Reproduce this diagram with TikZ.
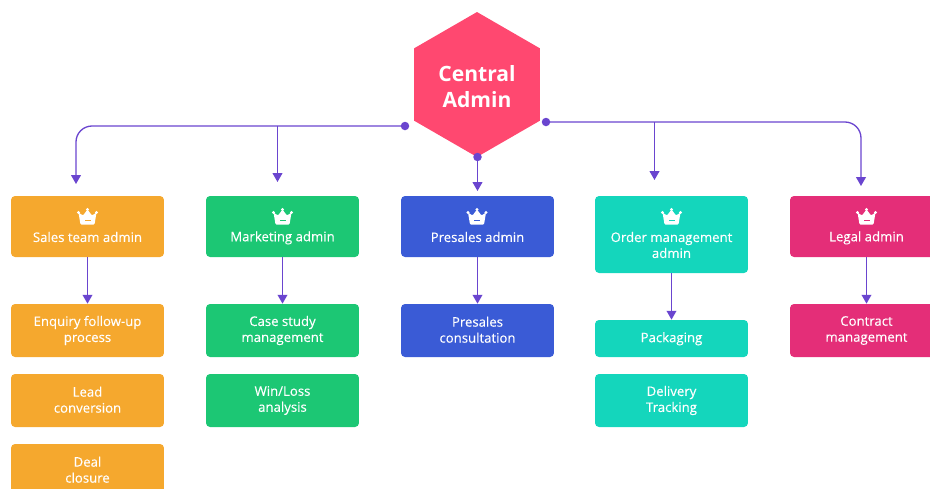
\documentclass[tikz,border=0pt]{standalone}
\usepackage{fontspec}
\setmainfont{Open Sans}[FakeBold=0.25]
\newfontfamily\hubfont{Open Sans Bold}
\usetikzlibrary{shapes.geometric, arrows.meta}
\definecolor{hubpink}{RGB}{255, 72, 112}
\definecolor{salesorange}{RGB}{245, 168, 46}
\definecolor{marketgreen}{RGB}{28, 199, 116}
\definecolor{presalesblue}{RGB}{58, 91, 214}
\definecolor{orderteal}{RGB}{20, 214, 188}
\definecolor{legalpink}{RGB}{228, 46, 120}
\definecolor{linkpurple}{RGB}{106, 69, 207}
\newcommand{\boxstrut}{\rule[-1pt]{0pt}{7pt}}
\tikzset{
    box/.style={fill=#1, text=white, rounded corners=0.08cm, minimum width=3.06cm, align=center, inner sep=0pt, font=\fontsize{7.5}{9.1}\selectfont, execute at begin node=\boxstrut, execute at end node=\boxstrut},
    admin/.style={box=#1, minimum height=1.22cm},
    item/.style={box=#1, minimum height=1.06cm},
    dot/.style={circle, fill=linkpurple, inner sep=0pt, minimum size=0.17cm},
    link/.style={draw=linkpurple, line width=0.75pt, -{Triangle[width=5.5pt,length=5pt]}, rounded corners=0.32cm},
    pics/crown/.style={code={
        \fill[white] (-9,-4) circle (1.6) (0,-7) circle (1.6) (9,-4) circle (1.6);
        \fill[white, rounded corners=0.02cm] (-9,-4) -- (-4.5,-1) -- (0,-7) -- (4.5,-1) -- (9,-4) -- (7,8) -- (-7,8) -- cycle;
        \fill[#1] (-3,3) rectangle (3,4.5);
    }}
}
\begin{document}
\begin{tikzpicture}[x=0.02cm, y=-0.02cm]
    \useasboundingbox (0,0) rectangle (930,488);
    \clip (0,0) rectangle (930,488);

    % Hub
    \node[regular polygon, regular polygon sides=6, shape border rotate=30, fill=hubpink, inner sep=0pt, minimum size=2.9cm, text=white, align=center, font=\fontsize{12}{15}\selectfont\hubfont] (hub) at (477,84.5) {\rule{0pt}{11.5pt}Central\\Admin};
    \node[dot] (dotleft) at (405,126) {};
    \node[dot] (dotright) at (546,122) {};
    \node[dot] (dotdown) at (477.5,157) {};

    % Admin row
    \node[admin=salesorange] (sales) at (87.5,226.5) {\\[9.5pt]Sales team admin};
    \node[admin=marketgreen] (market) at (282.5,226.5) {\\[9.5pt]Marketing admin};
    \node[admin=presalesblue] (presales) at (477.5,226.5) {\\[9.5pt]Presales admin};
    \node[admin=orderteal, minimum height=1.54cm] (order) at (671.5,234.5) {\\[9.5pt]Order management\\admin};
    \node[admin=legalpink] (legal) at (866.5,226.5) {\\[9.5pt]Legal admin};

    % Crowns
    \pic at (87.5,216.5) {crown=salesorange};
    \pic at (282.5,216.5) {crown=marketgreen};
    \pic at (477,216.5) {crown=presalesblue};
    \pic at (671.5,216.5) {crown=orderteal};
    \pic at (866.5,216.5) {crown=legalpink};

    % Items under each admin
    \node[item=salesorange] (enquiry) at (87.5,330.5) {Enquiry follow-up\\process};
    \node[item=salesorange] (lead) at (87.5,400.5) {Lead\\conversion};
    \node[item=salesorange] (deal) at (87.5,470.5) {Deal\\closure};
    \node[item=marketgreen] (casestudy) at (282.5,330.5) {Case study\\management};
    \node[item=marketgreen] (winloss) at (282.5,400.5) {Win/Loss\\analysis};
    \node[item=presalesblue] (consult) at (477.5,330.5) {Presales\\consultation};
    \node[item=orderteal, minimum height=0.74cm] (packaging) at (671.5,338.5) {Packaging};
    \node[item=orderteal] (delivery) at (671.5,400.5) {Delivery\\Tracking};
    \node[item=legalpink] (contract) at (866.5,330.5) {Contract\\management};

    % Arrow ends above the admin row
    \coordinate (tipsales) at (76,184);
    \coordinate (tipmarket) at (277.5,182);
    \coordinate (tippresales) at (477.5,191);
    \coordinate (tiporder) at (654.5,180);
    \coordinate (tiplegal) at (861,186);

    % Connectors
    \draw[link] (dotleft.center) -| (tipsales);
    \draw[link] (dotleft.center -| tipmarket) -- (tipmarket);
    \draw[link] (dotdown.center) -- (tippresales);
    \draw[link] (dotright.center -| tiporder) -- (tiporder);
    \draw[link] (dotright.center) -| (tiplegal);
    \draw[link] (sales) -- (enquiry);
    \draw[link] (market) -- (casestudy);
    \draw[link] (presales) -- (consult);
    \draw[link] (order) -- (packaging);
    \draw[link] (legal) -- (contract);
\end{tikzpicture}
\end{document}
